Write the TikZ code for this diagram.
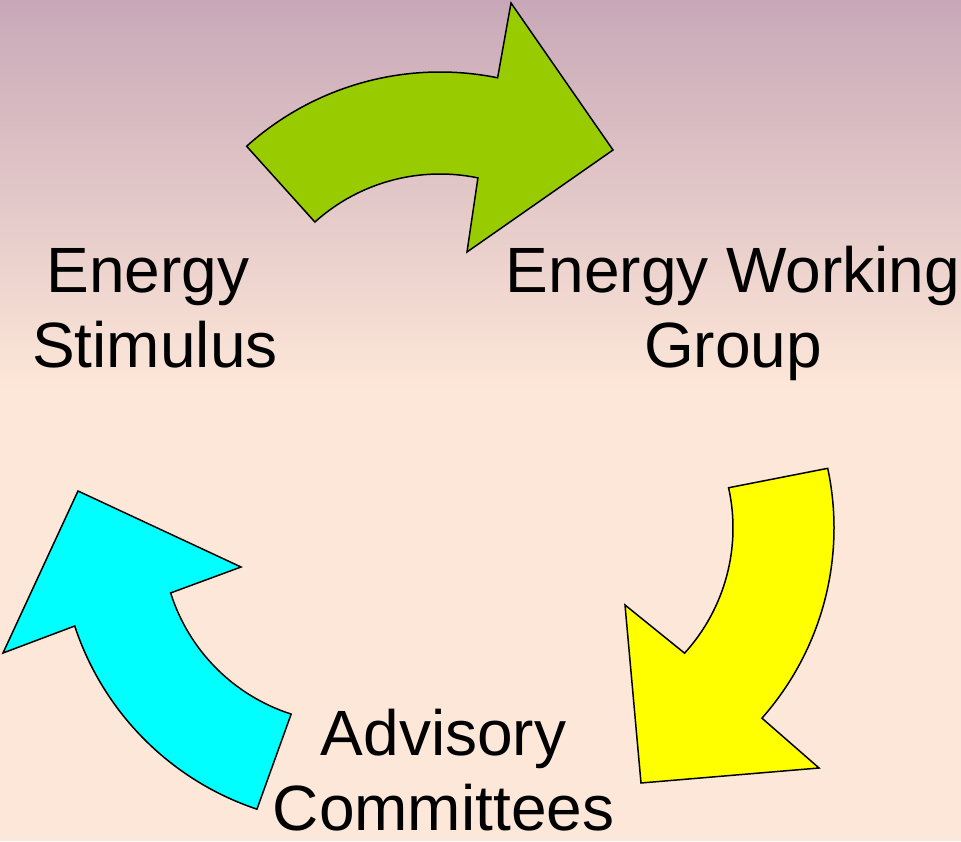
\documentclass[tikz,border=0pt]{standalone}
\usepackage{fontspec}
\setmainfont{Liberation Sans}
\usetikzlibrary{calc}
\definecolor{bgtop}{RGB}{200,168,184}
\definecolor{bgbot}{RGB}{253,231,216}
\definecolor{arrgreen}{RGB}{153,204,0}
\definecolor{arryellow}{RGB}{255,255,0}
\definecolor{arrcyan}{RGB}{0,255,255}
\tikzset{
  bentarrow/.style={draw=black, line width=1.5pt, line join=miter},
  lbl/.style={anchor=base, inner sep=0pt, font=\fontsize{64}{75}\selectfont},
}
\begin{document}
\begin{tikzpicture}[x=1pt,y=1pt]
\useasboundingbox (0,0) rectangle (961,841);
% background
\fill[bgbot] (0,0) rectangle (961,841);
\shade[top color=bgtop, bottom color=bgbot] (0,451) rectangle (961,841);
% centres of the bent arrows
\coordinate (G) at (440,480);
\coordinate (Y) at (547,313);
\coordinate (C) at (348,304);
% green arrow
\filldraw[bentarrow, fill=arrgreen]
  ($(G)+(132:289)$) arc[start angle=132, end angle=78.5, radius=289]
  -- (511,838) -- (613,691) -- (467,589)
  -- ($(G)+(78.3:187)$) arc[start angle=78.3, end angle=132, radius=187]
  -- cycle;
% yellow arrow
\filldraw[bentarrow, fill=arryellow]
  ($(Y)+(12:287)$) arc[start angle=12, end angle=-41.5, radius=287]
  -- (819,73) -- (641,58) -- (625,236)
  -- ($(Y)+(-42.3:186)$) arc[start angle=-42.3, end angle=12.5, radius=186]
  -- cycle;
% cyan arrow
\filldraw[bentarrow, fill=arrcyan]
  ($(C)+(251.5:287)$) arc[start angle=251.5, end angle=198.2, radius=288]
  -- (3,188) -- (78,350) -- (241,274)
  -- ($(C)+(197.5:186)$) arc[start angle=197.5, end angle=252.2, radius=186]
  -- cycle;
% labels
\node[lbl] (stim) at (155,548) {\begin{tabular}[t]{@{}c@{}}Energy\kern14pt\\Stimulus\end{tabular}};
\node[lbl] (ewg) at (733,548) {\begin{tabular}[t]{@{}c@{}}Energy Working\\Group\end{tabular}};
\node[lbl] (adv) at (443.5,86) {\begin{tabular}[t]{@{}c@{}}Advisory\\Committees\end{tabular}};
\end{tikzpicture}
\end{document}
